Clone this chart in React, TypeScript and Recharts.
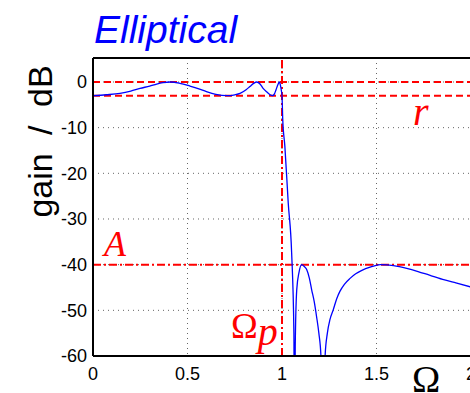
import { LineChart, Line, XAxis, YAxis, CartesianGrid, ReferenceLine } from 'recharts';

// normalised frequency and gain
const omega = [
  0, 0.07, 0.143, 0.2, 0.249, 0.3, 0.337, 0.37, 0.41, 0.46, 0.513, 0.56, 0.6, 0.65, 0.71,
  0.75, 0.778, 0.81, 0.83, 0.85, 0.866, 0.885, 0.9, 0.92, 0.937, 0.95, 0.96, 0.968, 0.978,
  0.986, 0.992, 0.997, 1.0, 1.004, 1.015, 1.033, 1.051, 1.063, 1.066, 1.07, 1.078, 1.09,
  1.104, 1.118, 1.13, 1.145, 1.157, 1.17, 1.183, 1.195, 1.206, 1.217, 1.228, 1.24, 1.254,
  1.271, 1.29, 1.307, 1.33, 1.36, 1.39, 1.42, 1.47, 1.52, 1.59, 1.66, 1.72, 1.78, 1.85,
  1.92, 2.0,
];
const gain = [
  -3.0, -2.8, -2.5, -2.0, -1.4, -0.9, -0.45, -0.15, 0, -0.3, -0.9, -1.5, -2.1, -2.7, -3.0,
  -2.8, -2.5, -1.7, -1.0, -0.3, 0, -0.5, -1.4, -2.2, -2.8, -3.0, -2.6, -1.75, -0.6,
  0, -0.8, -2.0, -3.0, -8.3, -14, -26.5, -37.4, -55, -90, -58, -45.5, -41.7,
  -40, -40.4, -41, -43, -45.5, -48, -51.4, -55, -60, -90, -60, -55, -52,
  -49.9, -47.4, -45.8, -44.3, -43.0, -42.0, -41.3, -40.5, -40, -40.2, -40.8, -41.5, -42.3, -43.2,
  -44, -44.9,
];
const xTicks = [0, 0.5, 1, 1.5, 2];
const yTicks = [0, -10, -20, -30, -40, -50, -60];
const rippleDb = -3;
const stopDb = -40;
const passEdge = 1;

const data = omega.map((w, i) => ({ w, g: gain[i] }));

const red = '#ff0000';
const tickStyle = { fontSize: 18, fill: '#000', fontFamily: 'Liberation Sans, Arial, sans-serif' };

export default function App() {
  return (
    <div style={{ position: 'absolute', left: 0, top: 0, width: 470, height: 393, overflow: 'hidden', background: '#fff' }}>
      <LineChart width={500} height={393} data={data} margin={{ top: 58, right: 29, bottom: 7, left: 0 }}>
        <CartesianGrid stroke="#666" strokeDasharray="1 4" />
        <XAxis
          type="number"
          dataKey="w"
          domain={[0, 2]}
          ticks={xTicks}
          height={30}
          tickSize={0}
          tickMargin={11}
          tick={tickStyle}
          axisLine={{ stroke: '#000', strokeWidth: 2 }}
        />
        <YAxis
          type="number"
          domain={[-60, 5.25]}
          ticks={yTicks}
          allowDataOverflow
          width={93}
          tickSize={0}
          tickMargin={6}
          tick={tickStyle}
          axisLine={{ stroke: '#000', strokeWidth: 2 }}
        />
        <ReferenceLine y={5.25} stroke="#000" strokeWidth={2} />
        <ReferenceLine y={0} stroke={red} strokeWidth={2} strokeDasharray="7 4" />
        <ReferenceLine y={rippleDb} stroke={red} strokeWidth={2} strokeDasharray="7 4" />
        <ReferenceLine y={stopDb} stroke={red} strokeWidth={2} strokeDasharray="8 3 2 3" />
        <ReferenceLine x={passEdge} stroke={red} strokeWidth={2} strokeDasharray="8 3 2 3" />
        <Line
          type="monotone"
          dataKey="g"
          stroke="#0000ff"
          strokeWidth={1.3}
          dot={false}
          isAnimationActive={false}
        />
      </LineChart>
      <svg width={470} height={393} style={{ position: 'absolute', left: 0, top: 0, pointerEvents: 'none' }}>
        <text x={94} y={43} fontSize={39} fontStyle="italic" fill="#0000ff" fontFamily="Liberation Sans, Arial, sans-serif">
          Elliptical
        </text>
        <text
          transform="translate(52,141.5) rotate(-90)"
          textAnchor="middle"
          fontSize={34}
          wordSpacing={9}
          fill="#000"
          fontFamily="Liberation Sans, Arial, sans-serif"
        >
          gain / dB
        </text>
        <text x={413} y={125} fontSize={40} fontStyle="italic" fill={red} fontFamily="Liberation Serif, serif">r</text>
        <text x={104} y={256} fontSize={36} fontStyle="italic" fill={red} fontFamily="Liberation Serif, serif">A</text>
        <text x={231} y={338} fontSize={36} fill={red} fontFamily="Liberation Serif, serif">
          Ω<tspan fontStyle="italic" fontSize={40} dy={7}>p</tspan>
        </text>
        <text x={412} y={392} fontSize={38} fill="#000" fontFamily="Liberation Serif, serif">Ω</text>
      </svg>
    </div>
  );
}
